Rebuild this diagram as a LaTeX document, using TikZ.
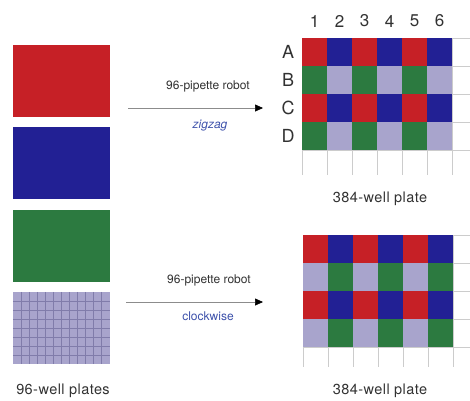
\documentclass[tikz,border=0pt]{standalone}
\usepackage{fontspec}
\setmainfont{TeX Gyre Heros}
\usetikzlibrary{arrows.meta}

\definecolor{wRed}{RGB}{198,32,38}
\definecolor{wBlue}{RGB}{34,32,148}
\definecolor{wGreen}{RGB}{44,122,64}
\definecolor{wLav}{RGB}{168,164,204}
\definecolor{wLavLine}{RGB}{128,124,170}
\definecolor{labelBlue}{RGB}{60,80,170}
\definecolor{textGray}{RGB}{50,50,50}

\tikzset{
  plate/.style={inner sep=0pt, minimum width=97pt, minimum height=72pt},
  gridline/.style={draw=black!20, line width=0.6pt},
  robot/.style={draw=black!45, line width=0.6pt, -{Triangle[length=8pt,width=7pt,black]}},
  rowlabel/.style={text=textGray, font=\fontsize{18}{20}\selectfont},
  collabel/.style={text=textGray, font=\fontsize{17}{18}\selectfont},
  robotlabel/.style={text=textGray, font=\fontsize{12}{14}\selectfont},
  platelabel/.style={text=textGray, font=\fontsize{14.5}{16}\selectfont\addfontfeature{LetterSpace=3}}
}

\begin{document}
\begin{tikzpicture}[x=1pt, y=-1pt]
	\useasboundingbox (0,0) rectangle (470,400);

	% 96-well plates
	\node[plate, fill=wRed] (red96) at (61.5,81) {};
	\node[plate, fill=wBlue] (blue96) at (61.5,163) {};
	\node[plate, fill=wGreen] (green96) at (61.5,246) {};
	\node[plate, fill=wLav] (lav96) at (61.5,328) {};
	\foreach \i in {1,...,11}
		\draw[wLavLine, line width=0.5pt] ([xshift=\i*97/12]lav96.north west) -- ([xshift=\i*97/12]lav96.south west);
	\foreach \j in {1,...,7}
		\draw[wLavLine, line width=0.5pt] ([yshift=-\j*9]lav96.north west) -- ([yshift=-\j*9]lav96.north east);
	\node[platelabel] (label96) at (63,391) {96-well plates};

	% upper 384-well plate
	\foreach \k in {0,...,4}
		\draw[gridline] (302,38+28*\k) -- (470,38+28*\k);
	\foreach \k in {0,...,6}
		\draw[gridline] (302+25*\k,38) -- (302+25*\k,175);
	\foreach \r/\cols in {0/{wRed,wBlue,wRed,wBlue,wRed,wBlue},
	                      1/{wGreen,wLav,wGreen,wLav,wGreen,wLav},
	                      2/{wRed,wBlue,wRed,wBlue,wRed,wBlue},
	                      3/{wGreen,wLav,wGreen,wLav,wGreen,wLav}}
		\foreach \c [count=\i from 0] in \cols
			\fill[\c] (302+25*\i,38+28*\r) rectangle ++(25,28);
	\foreach \n [count=\i from 0] in {1,...,6}
		\node[collabel] (col\n) at (314.5+25*\i,21) {\n};
	\foreach \l [count=\i from 0] in {A,B,C,D}
		\node[rowlabel] (row\l) at (288,52+28*\i) {\l};
	\node[platelabel] (label384a) at (380,199) {384-well plate};

	% lower 384-well plate
	\foreach \k in {0,...,4}
		\draw[gridline] (303,235+28*\k) -- (470,235+28*\k);
	\foreach \k in {0,...,6}
		\draw[gridline] (303+25*\k,235) -- (303+25*\k,367);
	\foreach \r/\cols in {0/{wRed,wBlue,wRed,wBlue,wRed,wBlue},
	                      1/{wLav,wGreen,wLav,wGreen,wLav,wGreen},
	                      2/{wRed,wBlue,wRed,wBlue,wRed,wBlue},
	                      3/{wLav,wGreen,wLav,wGreen,wLav,wGreen}}
		\foreach \c [count=\i from 0] in \cols
			\fill[\c] (303+25*\i,235+28*\r) rectangle ++(25,28);
	\node[platelabel] (label384b) at (380,391) {384-well plate};

	% robot transfers
	\coordinate (zzStart) at (128,108);
	\coordinate (zzEnd) at (263,108);
	\draw[robot] (zzStart) -- (zzEnd);
	\node[robotlabel] (zzRobot) at (208,86) {96-pipette robot};
	\node[robotlabel, text=labelBlue, font=\fontsize{12}{14}\selectfont\itshape] (zzMode) at (210,126) {zigzag};

	\coordinate (cwStart) at (126,302);
	\coordinate (cwEnd) at (263,302);
	\draw[robot] (cwStart) -- (cwEnd);
	\node[robotlabel] (cwRobot) at (209,280) {96-pipette robot};
	\node[robotlabel, text=labelBlue] (cwMode) at (208,316) {clockwise};
\end{tikzpicture}
\end{document}
